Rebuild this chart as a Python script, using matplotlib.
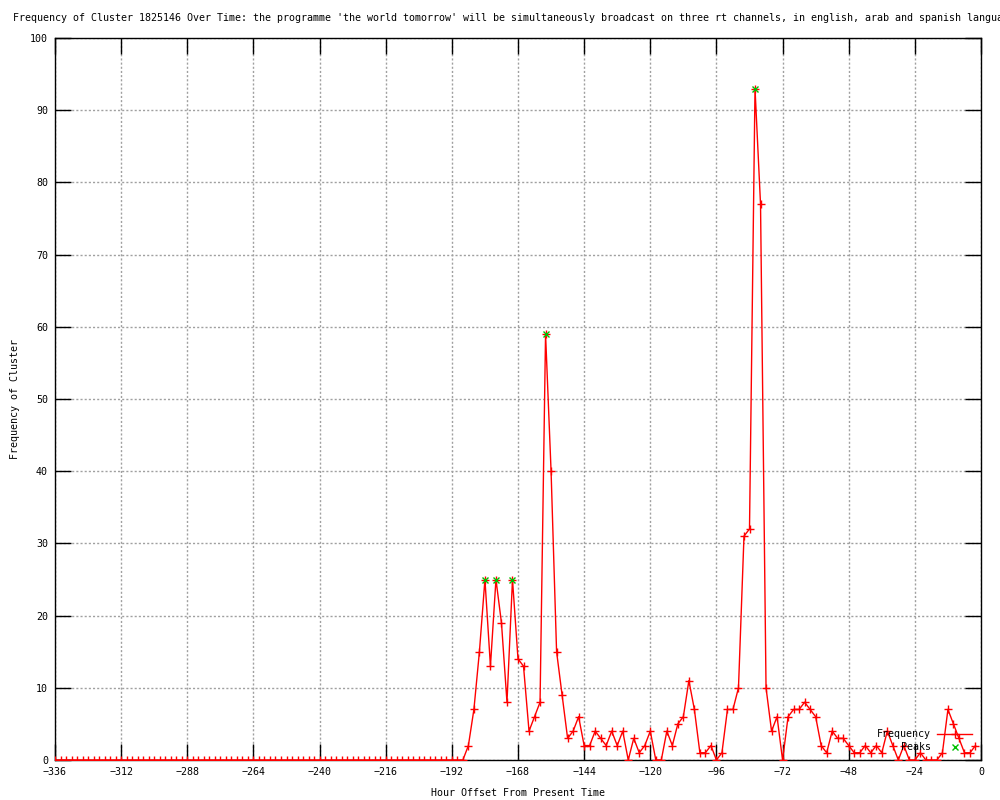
import matplotlib
matplotlib.use("Agg")
import matplotlib.pyplot as plt

# hour offsets, every 2 hours from -336 to -2
hours = list(range(-336, 0, 2))

# frequency per 2-hour bin
freq = [0] * 75 + [
    2, 7, 15, 25, 13, 25, 19, 8, 25, 14,
    13, 4, 6, 8, 59, 40, 15, 9, 3, 4,
    6, 2, 2, 4, 3, 2, 4, 2, 4, 0,
    3, 1, 2, 4, 0, 0, 4, 2, 5, 6,
    11, 7, 1, 1, 2, 0, 1, 7, 7, 10,
    31, 32, 93, 77, 10, 4, 6, 0, 6, 7,
    7, 8, 7, 6, 2, 1, 4, 3, 3, 2,
    1, 1, 2, 1, 2, 1, 4, 2, 0, 2,
    0, 0, 1, 0, 0, 0, 1, 7, 5, 3,
    1, 1, 2,
]

peak_hours = [-180, -176, -170, -158, -82]
peak_vals = [25, 25, 25, 59, 93]

title = ("Frequency of Cluster 1825146 Over Time: the programme 'the world tomorrow' "
         "will be simultaneously broadcast on three rt channels, in english, arab and spanish languages")

FS = 7.2
plt.rcParams["font.family"] = ["DejaVu Sans Mono"]
plt.rcParams["font.size"] = FS

fig = plt.figure(figsize=(10, 8), dpi=100)
ax = fig.add_axes([0.055, 0.05, 0.926, 0.9025])

ax.plot(hours, freq, color="red", lw=1, marker="+", ms=6, mew=1, label="Frequency", zorder=3)
ax.plot(peak_hours, peak_vals, ls="none", color="#00c000", marker="x", ms=5, mew=1, label="Peaks", zorder=4)

ax.set_xlim(-336, 0)
ax.set_ylim(0, 100)
ax.set_xticks(range(-336, 1, 24))
ax.set_yticks(range(0, 101, 10))

ax.grid(True, color="#a0a0a0", ls=(0, (1.5, 1.5)), lw=1)
ax.tick_params(direction="in", length=11.5, width=1, top=True, right=True, color="black")
ax.tick_params(axis="x", pad=5)
ax.tick_params(axis="y", pad=5)
for s in ax.spines.values():
    s.set_linewidth(1)

ax.set_xlabel("Hour Offset From Present Time", labelpad=8)
ax.set_ylabel("Frequency of Cluster", labelpad=7)

fig.text(0.013, 0.977, title, ha="left", va="center", fontsize=FS)

ax.legend(loc="lower right", bbox_to_anchor=(0.999, 0.0), frameon=False, markerfirst=False,
          handlelength=3.5, labelspacing=0.3, handletextpad=0.6, borderpad=0.3, fontsize=FS)

fig.savefig("out.png", dpi=100)
